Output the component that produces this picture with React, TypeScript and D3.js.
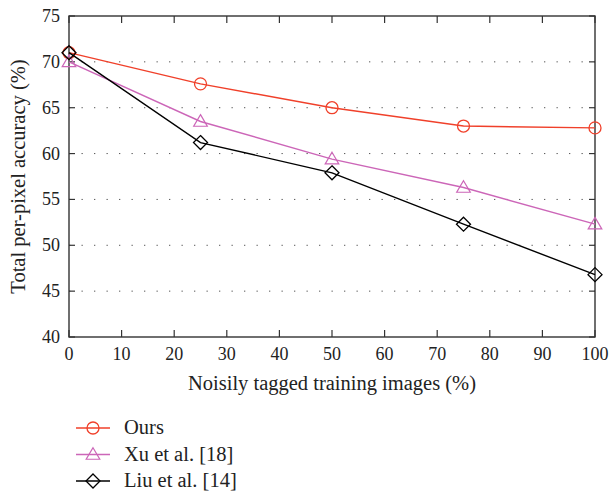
import React from "react";
import * as d3 from "d3";

const xValues = [0, 25, 50, 75, 100];
const oursValues = [71.0, 67.6, 65.0, 63.0, 62.8];
const xuValues = [70.0, 63.5, 59.4, 56.3, 52.3];
const liuValues = [71.0, 61.2, 57.9, 52.3, 46.8];
const xTicks = [0, 10, 20, 30, 40, 50, 60, 70, 80, 90, 100];
const yTicks = [40, 45, 50, 55, 60, 65, 70, 75];

const series = [
  { name: "Ours", values: oursValues, color: "#f0402a", marker: "circle" },
  { name: "Xu et al. [18]", values: xuValues, color: "#cc66b8", marker: "triangle" },
  { name: "Liu et al. [14]", values: liuValues, color: "#000000", marker: "diamond" },
];

const margin = { top: 16, right: 16, bottom: 157, left: 69 };
const W = 611, H = 494;
const width = W - margin.left - margin.right;
const height = H - margin.top - margin.bottom;
const font = "Liberation Serif, DejaVu Serif, serif";

function Marker({ type, x, y, color }: { type: string; x: number; y: number; color: string }) {
  if (type === "circle")
    return <circle cx={x} cy={y} r={6} fill="none" stroke={color} strokeWidth={1.3} />;
  if (type === "triangle") {
    const s = 6.8;
    const pts = [[x, y - s], [x + s, y + s * 0.7], [x - s, y + s * 0.7]];
    return <polygon points={pts.map((p) => p.join(",")).join(" ")} fill="none" stroke={color} strokeWidth={1.2} />;
  }
  const d = 7;
  const pts = [[x, y - d], [x + d, y], [x, y + d], [x - d, y]];
  return <polygon points={pts.map((p) => p.join(",")).join(" ")} fill="none" stroke={color} strokeWidth={1.3} />;
}

export default function App() {
  const x = d3.scaleLinear().domain([0, 100]).range([0, width]);
  const y = d3.scaleLinear().domain([40, 75]).range([height, 0]);
  const line = d3
    .line<number>()
    .x((_, i) => x(xValues[i]))
    .y((v) => y(v));
  const axisColor = "#333";

  return (
    <svg width={W} height={H} style={{ position: "absolute", left: 0, top: 0, fontFamily: font }}>
      <rect width={W} height={H} fill="#fff" />
      <g transform={`translate(${margin.left},${margin.top})`}>
        {/* dotted grid */}
        {yTicks.slice(1, -1).map((t) => (
          <line key={t} x1={0} x2={width} y1={y(t)} y2={y(t)} stroke="#555" strokeWidth={1} strokeDasharray="1.3,11.2" />
        ))}
        {/* frame */}
        <rect x={0} y={0} width={width} height={height} fill="none" stroke={axisColor} strokeWidth={1.4} />
        {/* x ticks */}
        {xTicks.map((t) => (
          <g key={t}>
            <line x1={x(t)} x2={x(t)} y1={height} y2={height - 7} stroke={axisColor} strokeWidth={1.2} />
            <line x1={x(t)} x2={x(t)} y1={0} y2={7} stroke={axisColor} strokeWidth={1.2} />
            <text x={x(t)} y={height + 23} textAnchor="middle" style={{ fontFamily: font, fontSize: 18 }} fill="#222">
              {t}
            </text>
          </g>
        ))}
        {/* y ticks */}
        {yTicks.map((t) => (
          <g key={t}>
            <line x1={0} x2={6} y1={y(t)} y2={y(t)} stroke={axisColor} strokeWidth={1.2} />
            <line x1={width} x2={width - 6} y1={y(t)} y2={y(t)} stroke={axisColor} strokeWidth={1.2} />
            <text x={-9} y={y(t) + 6} textAnchor="end" style={{ fontFamily: font, fontSize: 18 }} fill="#222">
              {t}
            </text>
          </g>
        ))}
        {/* series */}
        {series.map((s) => (
          <g key={s.name}>
            <path d={line(s.values) || ""} fill="none" stroke={s.color} strokeWidth={1.4} />
            {s.values.map((v, i) => (
              <Marker key={i} type={s.marker} x={x(xValues[i])} y={y(v)} color={s.color} />
            ))}
          </g>
        ))}
        <text x={width / 2} y={height + 53} textAnchor="middle" style={{ fontFamily: font, fontSize: 20.5 }} fill="#222">
          Noisily tagged training images (%)
        </text>
        <text
          transform={`translate(${-44},${height / 2}) rotate(-90)`}
          textAnchor="middle"
          style={{ fontFamily: font, fontSize: 20.5 }}
          fill="#222"
        >
          Total per-pixel accuracy (%)
        </text>
      </g>
      {/* legend */}
      <g>
        {series.map((s, i) => {
          const ly = 428 + i * 26.5;
          return (
            <g key={s.name}>
              <line x1={76} x2={110} y1={ly} y2={ly} stroke={s.color} strokeWidth={1.4} />
              <Marker type={s.marker} x={93} y={ly} color={s.color} />
              <text x={124} y={ly + 6} style={{ fontFamily: font, fontSize: 20.5 }} fill="#222">
                {s.name}
              </text>
            </g>
          );
        })}
      </g>
    </svg>
  );
}
